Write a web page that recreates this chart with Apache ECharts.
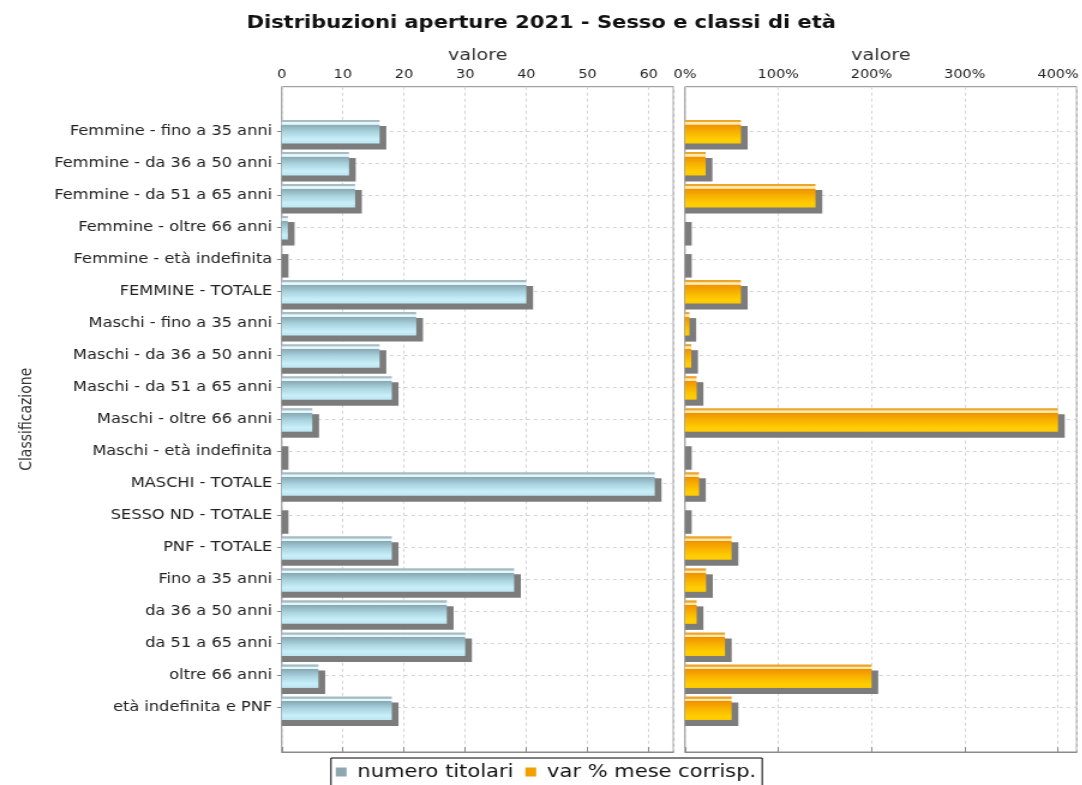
<!DOCTYPE html>
<html>
<head>
<meta charset="utf-8">
<script src="https://cdn.jsdelivr.net/npm/echarts@6/dist/echarts.min.js"></script>
<style>
html,body{margin:0;padding:0;background:#fff;overflow:hidden;}
#c{width:902px;height:785px;transform:scaleX(1.2);transform-origin:0 0;}
</style>
</head>
<body>
<div id="c"></div>
<script>
const categories = [
  "Femmine - fino a 35 anni", "Femmine - da 36 a 50 anni", "Femmine - da 51 a 65 anni",
  "Femmine - oltre 66 anni", "Femmine - età indefinita", "FEMMINE - TOTALE",
  "Maschi - fino a 35 anni", "Maschi - da 36 a 50 anni", "Maschi - da 51 a 65 anni",
  "Maschi - oltre 66 anni", "Maschi - età indefinita", "MASCHI - TOTALE",
  "SESSO ND - TOTALE", "PNF - TOTALE", "Fino a 35 anni", "da 36 a 50 anni",
  "da 51 a 65 anni", "oltre 66 anni", "età indefinita e PNF"
];
const numeroTitolari = [16, 11, 12, 1, 0, 40, 22, 16, 18, 5, 0, 61, 0, 18, 38, 27, 30, 6, 18];
const varPercMese = [60, 22.2, 140, 0, 0, 60, 4.8, 6.7, 12.5, 400, 0, 15.1, 0, 50, 22.6, 12.5, 42.9, 200, 50];
const seriesNames = ["numero titolari", "var % mese corrisp."];
const titleText = "Distribuzioni aperture 2021 - Sesso e classi di età";
const axisName = "valore";
const catAxisName = "Classificazione";

const FONT = "DejaVu Sans";
const chart = echarts.init(document.getElementById('c'), null, {renderer: 'canvas'});

const blueFill = {type:'linear', x:0, y:0, x2:0, y2:1, colorStops:[
  {offset:0, color:'#a2bcc5'}, {offset:0.085, color:'#a6c0c8'},
  {offset:0.11, color:'#eef8fb'}, {offset:0.19, color:'#e4f3f8'},
  {offset:0.215, color:'#88aab5'}, {offset:0.5, color:'#a8d2dd'},
  {offset:0.82, color:'#c8f0fa'}, {offset:1, color:'#bde4ef'}]};
const orangeFill = {type:'linear', x:0, y:0, x2:0, y2:1, colorStops:[
  {offset:0, color:'#eca028'}, {offset:0.085, color:'#f0a830'},
  {offset:0.11, color:'#fff0c0'}, {offset:0.19, color:'#ffe49a'},
  {offset:0.215, color:'#f19200'}, {offset:0.5, color:'#f8b000'},
  {offset:0.85, color:'#ffcf00'}, {offset:1, color:'#ffc800'}]};

function makeRender(fill) {
  return function (params, api) {
    const v = api.value(0), c = api.value(1);
    const start = api.coord([0, c]);
    const end = api.coord([v, c]);
    const band = api.size([0, 1])[1];
    const h = band * 0.734;
    const y0 = start[1] - h / 2 + 0.7;
    const w = end[0] - start[0];
    return {type:'group', children:[
      {type:'rect', shape:{x:start[0], y:y0 + 6, width:w + 5.6, height:h}, style:{fill:'#7c7c7c'}},
      {type:'rect', shape:{x:start[0], y:y0, width:w, height:h}, style:{fill:fill}}
    ]};
  };
}

const gridL = 234.75, gridW = 326.4, gridR2 = 570.8;
const outerTop = 86.7, outerH = 665.3, innerTop = 131, innerH = 576.5;
const gridLine = {show:true, lineStyle:{color:'#d4d4d4', type:[3,3], width:1}};

function topAxis(gridIndex, max, fmt) {
  return {
    type:'value', gridIndex:gridIndex, position:'top', min:0, max:max, interval: (max > 100 ? 100 : 10),
    name:axisName, nameLocation:'middle', nameGap:23,
    nameTextStyle:{fontFamily:FONT, fontSize:16, color:'#333'},
    axisLine:{show:true, lineStyle:{color:'#8a8a8a'}},
    axisTick:{show:true, length:5, lineStyle:{color:'#8a8a8a'}},
    axisLabel:{show:true, margin:6, fontFamily:FONT, fontSize:12, color:'#222', showMaxLabel:false, formatter:fmt},
    splitLine:gridLine
  };
}
function hiddenX(gridIndex, max) {
  return {type:'value', gridIndex:gridIndex, min:0, max:max, show:false, splitLine:{show:false}};
}

const option = {
  animation:false,
  backgroundColor:'#fff',
  title:{text:titleText, left:'center', top:14, padding:0,
    textStyle:{fontFamily:FONT, fontSize:17.5, fontWeight:'bold', color:'#111'}},
  legend:{
    left:275.8, top:758, orient:'horizontal',
    data:seriesNames, icon:'rect', itemWidth:9, itemHeight:9, itemGap:10,
    borderColor:'#000', borderWidth:1, padding:[5,5,12,4],
    textStyle:{fontFamily:FONT, fontSize:17.5, color:'#111', padding:[0,0,0,4]}
  },
  grid:[
    {left:gridL, top:outerTop, width:gridW, height:outerH, show:true, borderColor:'#8a8a8a', borderWidth:1, backgroundColor:'#fff'},
    {left:gridL, top:innerTop, width:gridW, height:innerH},
    {left:gridR2, top:outerTop, width:gridW, height:outerH, show:true, borderColor:'#8a8a8a', borderWidth:1, backgroundColor:'#fff'},
    {left:gridR2, top:innerTop, width:gridW, height:innerH}
  ],
  xAxis:[
    topAxis(0, 64.05, '{value}'),
    hiddenX(1, 64.05),
    topAxis(2, 420, '{value}%'),
    hiddenX(3, 420)
  ],
  yAxis:[
    {type:'value', gridIndex:0, show:false, splitLine:{show:false}},
    {type:'category', gridIndex:1, data:categories, inverse:true, boundaryGap:false,
      name:catAxisName, nameLocation:'middle', nameRotate:90, nameGap:205,
      nameTextStyle:{fontFamily:FONT, fontSize:14, color:'#333'},
      axisLine:{show:false}, axisTick:{show:true, length:4, alignWithLabel:true, lineStyle:{color:'#8a8a8a'}},
      axisLabel:{margin:8, fontFamily:FONT, fontSize:13.5, color:'#222'},
      splitLine:gridLine},
    {type:'value', gridIndex:2, show:false, splitLine:{show:false}},
    {type:'category', gridIndex:3, data:categories, inverse:true, boundaryGap:false,
      axisLine:{show:false}, axisTick:{show:false}, axisLabel:{show:false},
      splitLine:gridLine}
  ],
  series:[
    {name:seriesNames[0], type:'custom', xAxisIndex:1, yAxisIndex:1,
      itemStyle:{color:'#8fa6b0'}, encode:{x:0, y:1},
      data:numeroTitolari.map((v,i)=>[v,i]), renderItem:makeRender(blueFill)},
    {name:seriesNames[1], type:'custom', xAxisIndex:3, yAxisIndex:3,
      itemStyle:{color:'#f2a000'}, encode:{x:0, y:1},
      data:varPercMese.map((v,i)=>[v,i]), renderItem:makeRender(orangeFill)}
  ]
};
chart.setOption(option);
</script>
</body>
</html>
